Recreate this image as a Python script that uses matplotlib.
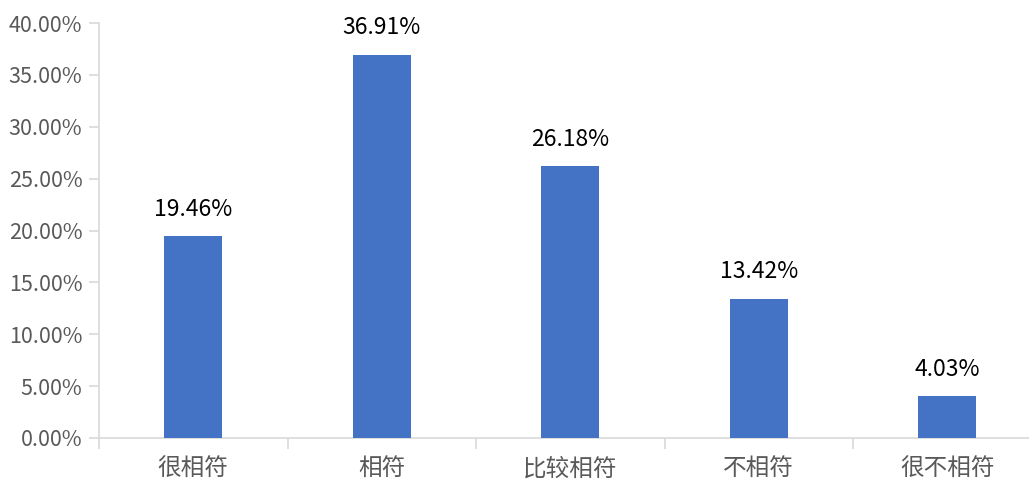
import matplotlib.pyplot as plt
from matplotlib.ticker import FixedLocator, PercentFormatter

plt.rcParams['font.family'] = ['Noto Sans CJK SC', 'DejaVu Sans']

categories = ['很相符', '相符', '比较相符', '不相符', '很不相符']
values = [19.46, 36.91, 26.18, 13.42, 4.03]
yticks = [0, 5, 10, 15, 20, 25, 30, 35, 40]

fig = plt.figure(figsize=(10.29, 4.8), dpi=100)
ax = fig.add_axes([99 / 1029, 42 / 480, 942.5 / 1029, 415 / 480])

x = list(range(len(categories)))
bars = ax.bar(x, values, width=0.31, color='#4472C4', zorder=3)
for b, v in zip(bars, values):
    ax.text(b.get_x() + b.get_width() / 2, v + 1.5, f'{v:.2f}%',
            ha='center', va='bottom', fontsize=16.5, color='black')

ax.set_xlim(-0.5, len(categories) - 0.5)
ax.set_ylim(0, 40)
ax.set_yticks(yticks)
ax.yaxis.set_major_formatter(PercentFormatter(decimals=2))
ax.set_xticks(x)
ax.set_xticklabels(categories)
ax.xaxis.set_minor_locator(FixedLocator([i - 0.5 for i in range(len(categories) + 1)]))

for s in ['top', 'right']:
    ax.spines[s].set_visible(False)
for s in ['left', 'bottom']:
    ax.spines[s].set_color('#d9d9d9')
    ax.spines[s].set_linewidth(1.2)

ax.tick_params(axis='y', length=7, width=1.2, color='#d9d9d9', labelsize=15.5,
               labelcolor='#595959', pad=5)
ax.tick_params(axis='x', which='major', length=0, labelsize=17,
               labelcolor='#595959', pad=14)
ax.tick_params(axis='x', which='minor', length=8, width=1.2, color='#d9d9d9')

plt.savefig('out.png', dpi=100)
